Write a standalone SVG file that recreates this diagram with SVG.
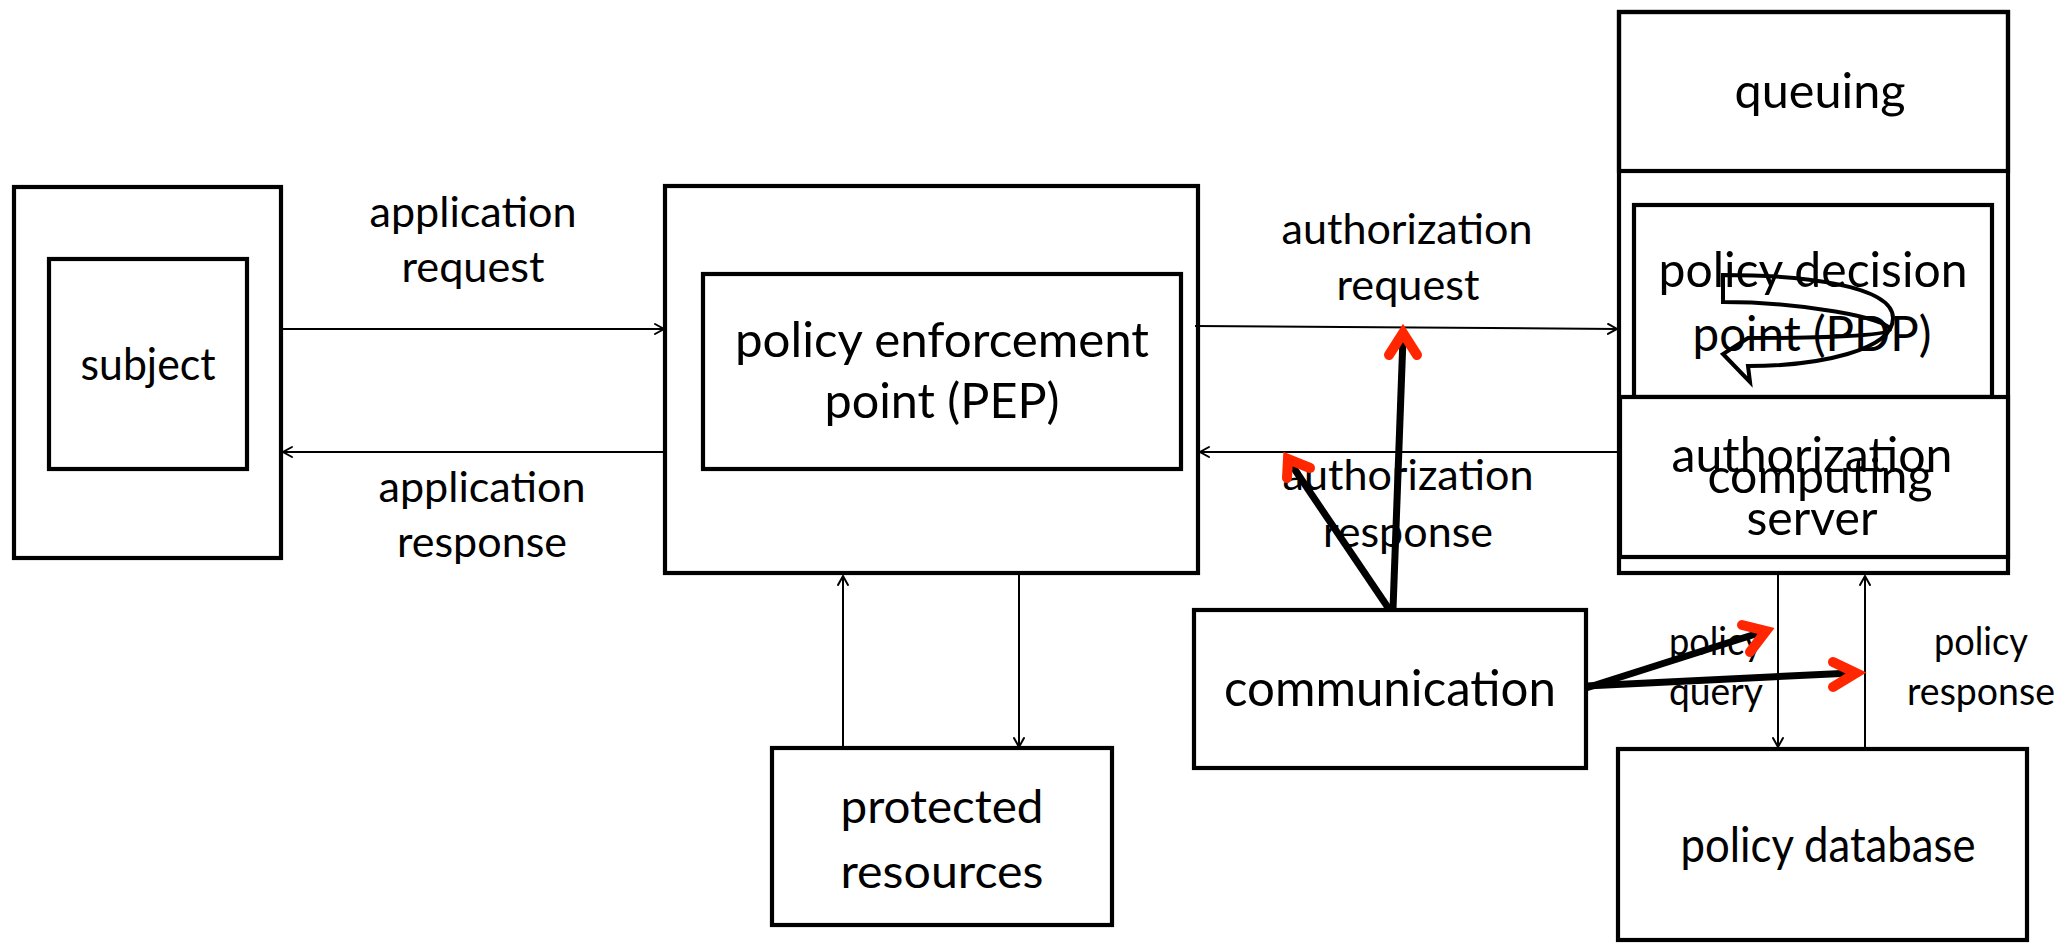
<svg xmlns="http://www.w3.org/2000/svg" width="2068" height="943" viewBox="0 0 2068 943">
<defs>
<style>
.box{fill:none;stroke:#000;stroke-width:4.2}
.t{font-family:Lato,"Liberation Sans",sans-serif;fill:#000;text-anchor:middle}
.m{font-size:48px}
.l{font-size:42px}
.s{font-size:38px}
.c{fill:none;stroke:#000;stroke-width:2}
.thick{fill:none;stroke:#000;stroke-width:7}
.red{fill:none;stroke:#ff2600;stroke-width:10;stroke-linecap:round;stroke-linejoin:miter}
</style>
<marker id="arr" markerUnits="userSpaceOnUse" markerWidth="16" markerHeight="16" viewBox="-12 -8 16 16" refX="0" refY="0" orient="auto">
<path d="M-9,-5 L0,0 L-9,5" fill="none" stroke="#000" stroke-width="2" stroke-linecap="round"/>
</marker>
</defs>
<rect width="2068" height="943" fill="#fff"/>

<g id="subject">
<rect class="box" x="14" y="187" width="267" height="371"/>
<rect class="box" x="49" y="259" width="198" height="210"/>
<text class="t" x="148" y="380" font-size="45" textLength="135" lengthAdjust="spacingAndGlyphs">subject</text>
</g>

<g id="pep">
<rect class="box" x="665" y="186" width="533" height="387"/>
<rect class="box" x="703" y="274" width="478" height="195"/>
<text class="t m" x="942" y="357" textLength="414" lengthAdjust="spacingAndGlyphs">policy enforcement</text>
<text class="t m" x="942" y="418" textLength="235" lengthAdjust="spacingAndGlyphs">point (PEP)</text>
</g>

<g id="protected-resources">
<rect class="box" x="772" y="748" width="340" height="177"/>
<text class="t" x="942" y="823" font-size="46" textLength="203" lengthAdjust="spacingAndGlyphs">protected</text>
<text class="t" x="942" y="888" font-size="46" textLength="203" lengthAdjust="spacingAndGlyphs">resources</text>
</g>

<g id="communication">
<rect class="box" x="1194" y="610" width="392" height="158"/>
<text class="t" x="1390" y="706" font-size="50" textLength="332" lengthAdjust="spacingAndGlyphs">communication</text>
</g>

<g id="server">
<rect class="box" x="1619" y="12" width="389" height="561"/>
</g>

<g id="queuing">
<rect class="box" x="1619" y="12" width="389" height="159"/>
<text class="t m" x="1820" y="108" textLength="171" lengthAdjust="spacingAndGlyphs">queuing</text>
</g>

<g id="pdp">
<rect class="box" x="1634" y="205" width="358" height="192"/>
<text class="t m" x="1813" y="287" textLength="309" lengthAdjust="spacingAndGlyphs">policy decision</text>
<text class="t m" x="1812" y="351" textLength="239" lengthAdjust="spacingAndGlyphs">point (PDP)</text>
</g>

<g id="pdp-loop">
<path d="M1723,275 C1800,275 1893,285 1893,318 C1893,350 1820,366 1748,366 L1750,382 L1723,354 L1748,338 C1820,338 1890,336 1890,330 C1890,318 1800,302 1723,302 Z" fill="none" stroke="#000" stroke-width="4" stroke-linejoin="miter"/>
</g>

<g id="authorization-computing-server">
<rect class="box" x="1620" y="397" width="388" height="160" fill="#fff" style="fill:#fff"/>
<text class="t m" x="1812" y="472" textLength="281" lengthAdjust="spacingAndGlyphs">authorization</text>
<text class="t m" x="1820" y="493" textLength="225" lengthAdjust="spacingAndGlyphs">computing</text>
<text class="t m" x="1812" y="535" textLength="131" lengthAdjust="spacingAndGlyphs">server</text>
</g>

<g id="policy-database">
<rect class="box" x="1618" y="749" width="409" height="191"/>
<text class="t m" x="1828" y="862" textLength="295" lengthAdjust="spacingAndGlyphs">policy database</text>
</g>

<g id="labels">
<text class="t l" x="473" y="227" textLength="207" lengthAdjust="spacingAndGlyphs">application</text>
<text class="t l" x="473" y="282" textLength="143" lengthAdjust="spacingAndGlyphs">request</text>
<text class="t l" x="482" y="502" textLength="207" lengthAdjust="spacingAndGlyphs">application</text>
<text class="t l" x="482" y="557" textLength="170" lengthAdjust="spacingAndGlyphs">response</text>
<text class="t l" x="1407" y="244" textLength="251" lengthAdjust="spacingAndGlyphs">authorization</text>
<text class="t l" x="1408" y="300" textLength="143" lengthAdjust="spacingAndGlyphs">request</text>
<text class="t l" x="1408" y="490" textLength="251" lengthAdjust="spacingAndGlyphs">authorization</text>
<text class="t l" x="1408" y="547" textLength="170" lengthAdjust="spacingAndGlyphs">response</text>
<text class="t s" x="1716" y="655" textLength="94" lengthAdjust="spacingAndGlyphs">policy</text>
<text class="t s" x="1716" y="705" textLength="94" lengthAdjust="spacingAndGlyphs">query</text>
<text class="t s" x="1981" y="655" textLength="94" lengthAdjust="spacingAndGlyphs">policy</text>
<text class="t s" x="1981" y="705" textLength="148" lengthAdjust="spacingAndGlyphs">response</text>
</g>

<g id="connectors">
<path class="c" d="M283,329 H664" marker-end="url(#arr)"/>
<path class="c" d="M665,452 H283" marker-end="url(#arr)"/>
<path class="c" d="M1195,326 L1617,329" marker-end="url(#arr)"/>
<path class="c" d="M1618,452 H1200" marker-end="url(#arr)"/>
<path class="c" d="M1019,575 V747" marker-end="url(#arr)"/>
<path class="c" d="M843,748 V576" marker-end="url(#arr)"/>
<path class="c" d="M1778,575 V747" marker-end="url(#arr)"/>
<path class="c" d="M1865,749 V576" marker-end="url(#arr)"/>
<path class="thick" d="M1393,609 L1403,338"/>
<path class="thick" d="M1389,609 L1291,464"/>
<path class="thick" d="M1586,688 L1762,632"/>
<path class="thick" d="M1586,686 L1852,673"/>
<path class="red" d="M1389,355 L1403,333 L1417,355"/>
<path class="red" d="M1310,468 L1288,459 L1287,478"/>
<path class="red" d="M1742,625 L1766,631 L1750,652"/>
<path class="red" d="M1833,662 L1856,673 L1833,687"/>
</g>
</svg>
